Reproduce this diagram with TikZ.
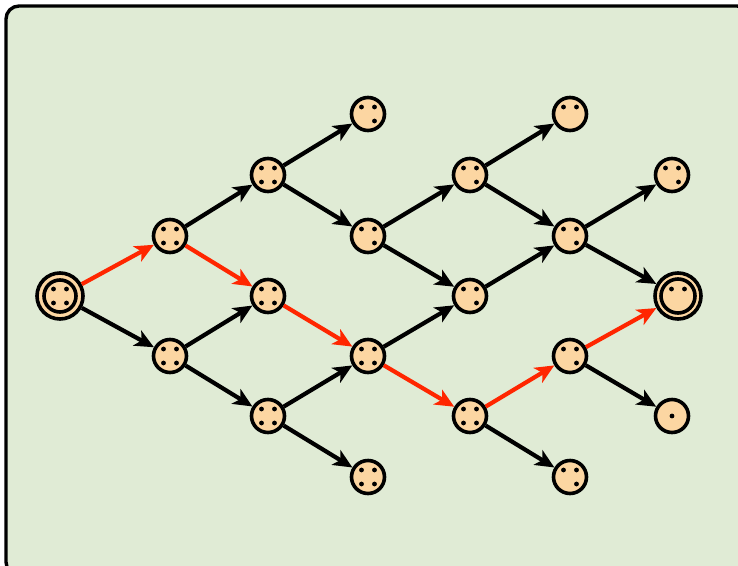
\documentclass[tikz,border=0pt]{standalone}
\usetikzlibrary{arrows.meta}
\definecolor{panel}{RGB}{224,235,213}
\definecolor{token}{RGB}{252,214,162}
\definecolor{hot}{RGB}{255,38,0}
\tikzset{
  state/.style={circle, draw, line width=3.6pt, fill=token, minimum size=33pt, inner sep=0pt},
  final/.style={circle, draw, line width=3.6pt, fill=token, minimum size=46pt, inner sep=0pt},
  edge/.style={line width=4.2pt, -{Stealth[length=19pt,width=17pt,inset=5pt]}},
  hotedge/.style={edge, draw=hot, color=hot},
  pics/m1/.style={code={\fill (0,0) circle (2.4pt);}},
  pics/m2/.style={code={\fill (-6.5,-7) circle (2.4pt) (6.5,-7) circle (2.4pt);}},
  pics/m3/.style={code={\fill (-6.5,-7) circle (2.4pt) (6.5,-7) circle (2.4pt) (6.5,7) circle (2.4pt);}},
  pics/m4/.style={code={\fill (-6.5,-7) circle (2.4pt) (6.5,-7) circle (2.4pt) (-6.5,7) circle (2.4pt) (6.5,7) circle (2.4pt);}},
}
\begin{document}
\begin{tikzpicture}[x=1pt,y=-1pt]
\useasboundingbox (0,0) rectangle (738,565);
\begin{scope}
\clip (0,0) rectangle (738,565);
\draw[fill=panel, line width=3.4pt, rounded corners=13pt] (6,6) rectangle (750,575);
\end{scope}

% initial and accepting markings (double circles)
\node[final] (s) at (60,296) {};
\draw[line width=3.6pt] (s) circle (16pt);
\pic at (s) {m4};
\node[final] (t) at (678,296) {};
\draw[line width=3.6pt] (t) circle (17pt);
\pic at (t) {m2};

% reachable markings
\foreach \n/\x/\y/\k in {
  a1/170/236/4, a2/170/356/4,
  b1/268/175/4, b2/268/296/4, b3/268/416/4,
  c1/368/114/3, c2/368/236/3, c3/368/356/4, c4/368/477/4,
  d1/470/175/3, d2/470/296/3, d3/470/416/4,
  e1/570/114/2, e2/570/236/3, e3/570/356/3, e4/570/477/3,
  f1/672/175/3, f3/672/416/1}
{
  \node[state] (\n) at (\x,\y) {};
  \pic at (\n) {m\k};
}

% transitions
\draw[hotedge] (s) -- (a1);
\draw[edge] (s) -- (a2);
\draw[edge] (a1) -- (b1);
\draw[hotedge] (a1) -- (b2);
\draw[edge] (a2) -- (b2);
\draw[edge] (a2) -- (b3);
\draw[edge] (b1) -- (c1);
\draw[edge] (b1) -- (c2);
\draw[hotedge] (b2) -- (c3);
\draw[edge] (b3) -- (c3);
\draw[edge] (b3) -- (c4);
\draw[edge] (c2) -- (d1);
\draw[edge] (c2) -- (d2);
\draw[edge] (c3) -- (d2);
\draw[hotedge] (c3) -- (d3);
\draw[edge] (d1) -- (e1);
\draw[edge] (d1) -- (e2);
\draw[edge] (d2) -- (e2);
\draw[hotedge] (d3) -- (e3);
\draw[edge] (d3) -- (e4);
\draw[edge] (e2) -- (f1);
\draw[edge] (e2) -- (t);
\draw[hotedge] (e3) -- (t);
\draw[edge] (e3) -- (f3);
\end{tikzpicture}
\end{document}
